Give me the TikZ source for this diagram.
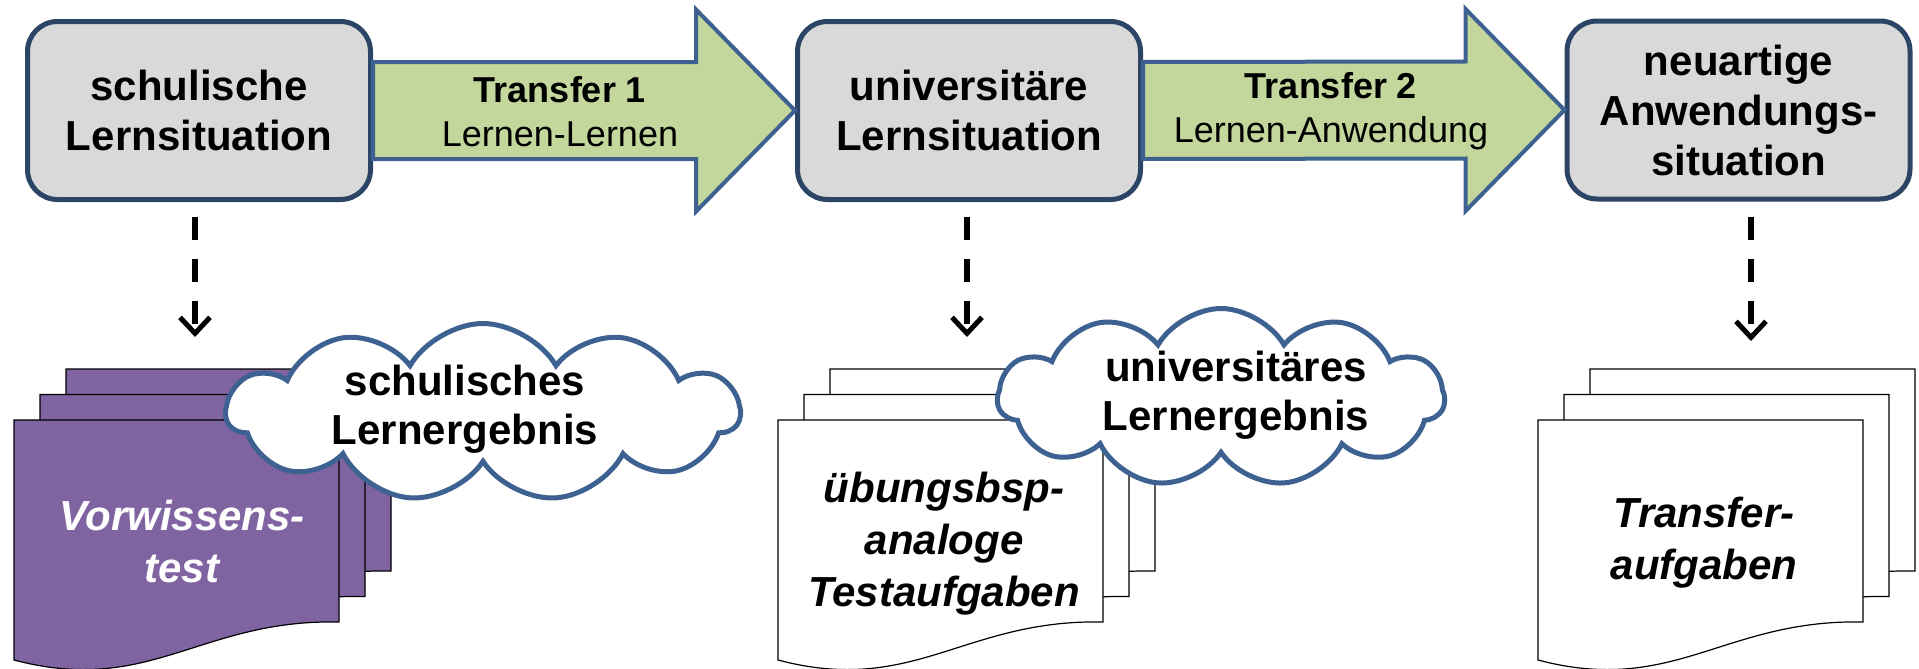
\documentclass[tikz,border=0pt]{standalone}
\usepackage{fontspec}
\setmainfont{Liberation Sans}
\usetikzlibrary{shapes.symbols,arrows.meta,calc}
\definecolor{boxgray}{HTML}{D9D9D9}
\definecolor{boxline}{HTML}{2C4566}
\definecolor{arrowgreen}{HTML}{C3D69B}
\definecolor{arrowline}{HTML}{3D6190}
\definecolor{docpurple}{HTML}{8064A2}
\tikzset{
	situation/.style  = {shape=rectangle, rounded corners=15pt,
		draw=boxline, line width=2.5pt, fill=boxgray, align=center,
		minimum width=171.5pt, minimum height=89pt,
		font=\fontsize{21}{25}\selectfont\bfseries},
	transfer/.style   = {draw=arrowline, line width=2pt, fill=arrowgreen},
	transfertext/.style = {align=center, font=\fontsize{18}{22}\selectfont},
	result/.style     = {cloud, cloud puffs=11, cloud puff arc=120,
		cloud ignores aspect, draw=arrowline, line width=2.5pt, fill=white,
		minimum height=89pt},
	resulttext/.style = {align=center, font=\fontsize{21}{24.5}\selectfont\bfseries},
	page/.style       = {draw=black, line width=0.6pt},
	doctext/.style    = {align=center, font=\fontsize{21}{26}\selectfont\bfseries\itshape},
	measure/.style    = {draw, line width=3pt, dash pattern=on 11.5pt off 9.5pt,
		shorten <=7.5pt, -{Straight Barb[length=8pt,width=15pt,line width=2.5pt]}}
}
\newcommand{\docstack}[3]{%
	\foreach \k in {2,1,0}
		\filldraw[page, fill=#3] (#1+26*\k,#2-25.5*\k) -- ++(325,0) -- ++(0,202)
			.. controls +(-139,-3) and +(136,36) .. ++(-325,38) -- cycle;
}
\begin{document}
\begin{tikzpicture}
[
x = 0.5pt, y = -0.5pt,
every node/.style = {inner sep=0pt}
]
\useasboundingbox (0,0) rectangle (1919,669);
\node [situation] (schule) at (199,110.5) {schulische\\Lernsituation};
\node [situation] (uni) at (969,110.5) {universitäre\\Lernsituation};
\node [situation] (neu) at (1738.5,110) {neuartige\\Anwendungs-\\situation};
\foreach \a/\b in {schule/uni, uni/neu}
	\draw [transfer] ($(\a.east)+(0,-48.5)$) -- ($(\b.west)+(-99,-48.5)$)
		-- ($(\b.west)+(-99,-101)$) -- (\b.west) -- ($(\b.west)+(-99,101)$)
		-- ($(\b.west)+(-99,48.5)$) -- ($(\a.east)+(0,48.5)$) -- cycle;
\node [transfertext] (tr1) at (560,112) {\textbf{Transfer 1}\\Lernen-Lernen};
\node [transfertext] (tr2) at (1331,111) {\textbf{Transfer 2}\\Lernen-Anwendung};
\coordinate (m1) at (195,337);
\coordinate (m2) at (967,337);
\coordinate (m3) at (1751,341);
\draw [measure] (m1 |- schule.south) -- (m1);
\draw [measure] (m2 |- uni.south) -- (m2);
\draw [measure] (m3 |- neu.south) -- (m3);
\docstack{14}{420}{docpurple}
\docstack{778}{420}{white}
\docstack{1538}{420}{white}
\node [doctext, text=white] (vortest) at (182,541) {Vorwissens-\\test};
\node [doctext] (analog) at (944,544) {übungsbsp-\\analoge\\Testaufgaben};
\node [doctext] (transaufg) at (1704,543) {Transfer-\\aufgaben};
\node [result, minimum width=256.5pt] (schulerg) at (483,412.5) {};
\node [result, minimum width=223.5pt] (unierg) at (1221,397.5) {};
\node [resulttext] (schulergtext) at (465,409) {schulisches\\Lernergebnis};
\node [resulttext] (uniergtext) at (1236,395) {universitäres\\Lernergebnis};
\end{tikzpicture}
\end{document}
